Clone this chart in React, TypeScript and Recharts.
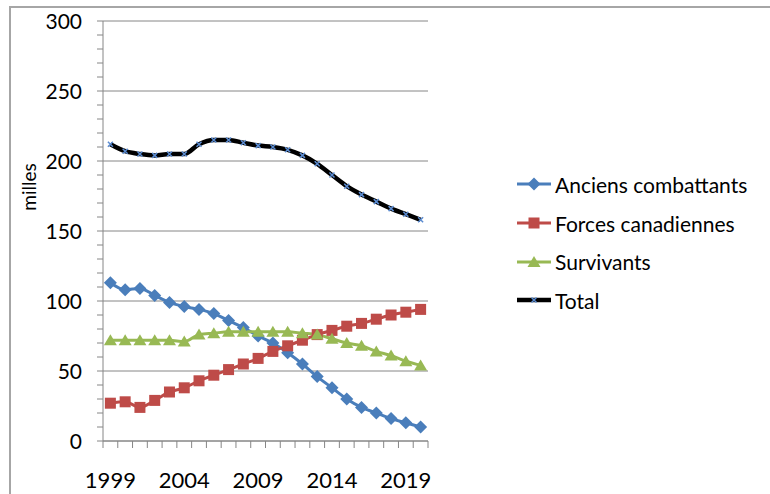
import { LineChart, Line, XAxis, YAxis, CartesianGrid } from 'recharts';

const years = [1999, 2000, 2001, 2002, 2003, 2004, 2005, 2006, 2007, 2008, 2009, 2010, 2011, 2012, 2013, 2014, 2015, 2016, 2017, 2018, 2019, 2020];
const anciensCombattants = [113, 108, 109, 104, 99, 96, 94, 91, 86, 81, 75, 70, 63, 55, 46, 38, 30, 24, 20, 16, 13, 10];
const forcesCanadiennes = [27, 28, 24, 29, 35, 38, 43, 47, 51, 55, 59, 64, 68, 72, 76, 79, 82, 84, 87, 90, 92, 94];
const survivants = [72, 72, 72, 72, 72, 71, 76, 77, 78, 78, 78, 78, 78, 77, 76, 73, 70, 68, 64, 61, 57, 54];
const total = [212, 207, 205, 204, 205, 205, 212, 215, 215, 213, 211, 210, 208, 204, 198, 190, 182, 176, 171, 166, 162, 158];

// labels sit on the years, tick marks sit between them (Excel style)
const yearLabels = [1999, 2004, 2009, 2014, 2019];
const yearEdges = [1998.5, 1999.5, 2000.5, 2001.5, 2002.5, 2003.5, 2004.5, 2005.5, 2006.5, 2007.5, 2008.5, 2009.5, 2010.5, 2011.5, 2012.5, 2013.5, 2014.5, 2015.5, 2016.5, 2017.5, 2018.5, 2019.5, 2020.5];
const yTicks = [0, 10, 20, 30, 40, 50, 60, 70, 80, 90, 100, 110, 120, 130, 140, 150, 160, 170, 180, 190, 200, 210, 220, 230, 240, 250, 260, 270, 280, 290, 300];
const yLabelled = [0, 50, 100, 150, 200, 250, 300];

const AXIS = '#868686';
const FONT = 'Lato, "Open Sans", sans-serif';

type MarkerKind = 'diamond' | 'square' | 'triangle' | 'cross';

const drawMarker = (kind: MarkerKind, cx: number, cy: number, color: string) => {
    switch (kind) {
        case 'diamond':
            return <path d={`M${cx},${cy - 6.5}L${cx + 6.5},${cy}L${cx},${cy + 6.5}L${cx - 6.5},${cy}Z`} fill={color} />;
        case 'square':
            return <rect x={cx - 5.5} y={cy - 5.5} width={11} height={11} fill={color} />;
        case 'triangle':
            return <path d={`M${cx},${cy - 6}L${cx + 6.5},${cy + 5}L${cx - 6.5},${cy + 5}Z`} fill={color} />;
        default:
            return (
                <path
                    d={`M${cx - 2.5},${cy - 2.5}L${cx + 2.5},${cy + 2.5}M${cx + 2.5},${cy - 2.5}L${cx - 2.5},${cy + 2.5}`}
                    stroke="#5B8BD0"
                    strokeWidth={1.5}
                />
            );
    }
};

const series = [
    { key: 'anciens', name: 'Anciens combattants', color: '#4A7EBB', marker: 'diamond' as MarkerKind, width: 3 },
    { key: 'forces', name: 'Forces canadiennes', color: '#BE4B48', marker: 'square' as MarkerKind, width: 3 },
    { key: 'survivants', name: 'Survivants', color: '#98B954', marker: 'triangle' as MarkerKind, width: 3 },
    { key: 'total', name: 'Total', color: '#000000', marker: 'cross' as MarkerKind, width: 4.5 },
];

const data = years.map((year, i) => ({
    year,
    anciens: anciensCombattants[i],
    forces: forcesCanadiennes[i],
    survivants: survivants[i],
    total: total[i],
}));

const xTickValues = [...yearEdges, ...yearLabels].sort((a, b) => a - b);

// edge values get a short tick mark, labelled years get text
const XTick = ({ x, y, payload }: any) => {
    if (yearEdges.includes(payload.value)) {
        return <line x1={x} x2={x} y1={y} y2={y + 7} stroke={AXIS} />;
    }
    return (
        <text x={x} y={y + 31} dy="0.71em" textAnchor="middle" fontSize={22} fontFamily={FONT} fill="#000">
            {payload.value}
        </text>
    );
};

const YTick = ({ x, y, payload }: any) => {
    if (!yLabelled.includes(payload.value)) return <g />;
    return (
        <text x={x} y={y} dy="0.36em" textAnchor="end" fontSize={21} fontFamily={FONT} fill="#000">
            {payload.value}
        </text>
    );
};

const UnitLabel = ({ viewBox }: any) => {
    const cx = viewBox.x + 29;
    const cy = viewBox.y + 166;
    return (
        <text
            x={cx}
            y={cy}
            transform={`rotate(-90, ${cx}, ${cy})`}
            textAnchor="middle"
            dy="0.35em"
            fontSize={19}
            fontFamily={FONT}
            fill="#000"
        >
            milles
        </text>
    );
};

export default function App() {
    return (
        <div style={{ position: 'absolute', left: 0, top: 0, width: 770, height: 494, background: '#fff', overflow: 'hidden' }}>
            <div
                style={{
                    position: 'absolute',
                    left: 9,
                    top: 6,
                    width: 900,
                    height: 600,
                    borderTop: '2px solid #a6a6a6',
                    borderLeft: '2px solid #a6a6a6',
                }}
            />
            <LineChart
                width={770}
                height={494}
                data={data}
                margin={{ top: 21, right: 342, bottom: 52, left: 0 }}
                style={{ position: 'absolute', left: 0, top: 0 }}
            >
                <CartesianGrid vertical={false} horizontalValues={yLabelled} stroke={AXIS} strokeWidth={1} />
                <XAxis
                    dataKey="year"
                    type="number"
                    domain={[1998.5, 2020.5]}
                    ticks={xTickValues}
                    interval={0}
                    height={1}
                    tickSize={0}
                    tickMargin={0}
                    axisLine={{ stroke: AXIS }}
                    tickLine={false}
                    tick={<XTick />}
                />
                <YAxis
                    domain={[0, 300]}
                    ticks={yTicks}
                    interval={0}
                    width={103}
                    tickSize={6}
                    tickMargin={15}
                    axisLine={{ stroke: AXIS }}
                    tickLine={{ stroke: AXIS }}
                    tick={<YTick />}
                    label={<UnitLabel />}
                />
                {series.map((s) => (
                    <Line
                        key={s.key}
                        dataKey={s.key}
                        name={s.name}
                        type="monotone"
                        stroke={s.color}
                        strokeWidth={s.width}
                        isAnimationActive={false}
                        dot={(p: any) => <g key={`${s.key}-${p.index}`}>{drawMarker(s.marker, p.cx, p.cy, s.color)}</g>}
                        activeDot={false}
                    />
                ))}
            </LineChart>
            <div style={{ position: 'absolute', left: 517, top: 165, fontFamily: FONT, fontSize: 21, color: '#000' }}>
                {series.map((s) => (
                    <div key={s.key} style={{ display: 'flex', alignItems: 'center', height: 38.7 }}>
                        <svg width={34} height={20}>
                            <line x1={0} x2={34} y1={10} y2={10} stroke={s.color} strokeWidth={s.width} />
                            {drawMarker(s.marker, 17, 10, s.color)}
                        </svg>
                        <span style={{ marginLeft: 4, whiteSpace: 'nowrap' }}>{s.name}</span>
                    </div>
                ))}
            </div>
        </div>
    );
}
